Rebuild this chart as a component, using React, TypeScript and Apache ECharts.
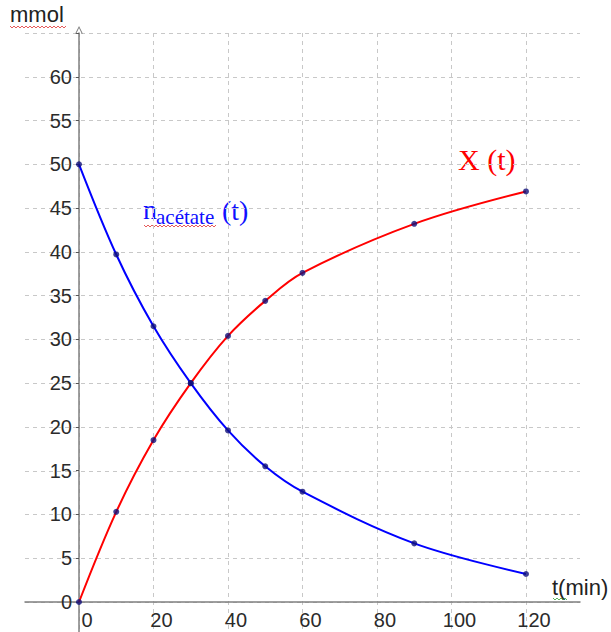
import React, { useEffect, useRef } from "react";
import * as echarts from "echarts";

const times = [0, 10, 20, 30, 40, 50, 60, 90, 120];
const nAcetate = [50, 39.7, 31.5, 25, 19.6, 15.5, 12.6, 6.7, 3.2];
const xProduct = [0, 10.3, 18.5, 25, 30.4, 34.4, 37.6, 43.2, 46.9];
const xTickLabels = [0, 20, 40, 60, 80, 100, 120];
const xGridValues = [0, 20, 40, 60, 80, 100, 120];
const yTickLabels = [0, 5, 10, 15, 20, 25, 30, 35, 40, 45, 50, 55, 60];
const yGridValues = [0, 5, 10, 15, 20, 25, 30, 35, 40, 45, 50, 55, 60, 65];

function squiggle(x0: number, x1: number, y: number, color: string) {
  const pts: number[][] = [];
  let up = true;
  for (let x = x0; x <= x1; x += 2) {
    pts.push([x, up ? y - 1 : y + 1]);
    up = !up;
  }
  return {
    type: "polyline",
    shape: { points: pts },
    style: { stroke: color, lineWidth: 0.8, fill: null },
    silent: true,
  };
}

export default function App() {
  const ref = useRef<HTMLDivElement>(null);
  useEffect(() => {
    if (!ref.current) return;
    const chart = echarts.init(ref.current, null, { renderer: "svg" });
    const blue = times.map((t, i) => [t, nAcetate[i]]);
    const red = times.map((t, i) => [t, xProduct[i]]);
    const sans = "'Liberation Sans', Arial, sans-serif";
    const serif = "'Liberation Serif', 'Times New Roman', serif";
    const dash = { color: "#c8c8c8", type: [4, 4], width: 1 };
    chart.setOption({
      animation: false,
      backgroundColor: "#ffffff",
      grid: [
        { left: 25, right: 31, top: 33, bottom: 0, containLabel: false, outerBoundsMode: "none" },
        { left: 79, right: 31, top: 33, bottom: 30, containLabel: false, outerBoundsMode: "none" },
      ],
      xAxis: [
        {
          type: "value",
          gridIndex: 0,
          min: -14.5,
          max: 134.5,
          axisLine: { onZero: true, lineStyle: { color: "#7f7f7f", width: 1.5 } },
          axisTick: { show: false, customValues: xGridValues },
          axisLabel: { show: false },
          splitLine: { show: true, lineStyle: dash },
        },
        {
          type: "value",
          gridIndex: 1,
          min: 0,
          max: 134.5,
          axisLine: { show: false },
          axisTick: { show: false, customValues: xGridValues },
          axisLabel: {
            customValues: xTickLabels,
            fontSize: 20,
            fontFamily: sans,
            color: "#2b2b2b",
            margin: 8,
            align: "center",
            padding: [0, 0, 0, 16],
          },
          splitLine: { show: false },
        },
      ],
      yAxis: [
        {
          type: "value",
          gridIndex: 0,
          min: -3.4,
          max: 65,
          axisLine: {
            onZero: true,
            symbol: ["none", "path://M0,10L5,0L10,10L8.9,10.6L5,2.6L1.1,10.6Z"],
            symbolSize: [11, 8],
            symbolOffset: [0, 3],
            lineStyle: { color: "#7f7f7f", width: 1.5 },
          },
          axisTick: { show: false, customValues: yGridValues },
          axisLabel: { show: false },
          splitLine: { show: true, lineStyle: dash },
        },
        {
          type: "value",
          gridIndex: 1,
          min: 0,
          max: 65,
          axisLine: { show: false },
          axisTick: { show: true, length: 3, customValues: yGridValues, lineStyle: { color: "#555" } },
          axisLabel: {
            customValues: yTickLabels,
            fontSize: 20,
            fontFamily: sans,
            color: "#2b2b2b",
            margin: 7,
            verticalAlign: "middle",
            padding: [0, 0, 20, 0],
          },
          splitLine: { show: false },
        },
      ],
      series: [
        {
          type: "line",
          xAxisIndex: 1,
          yAxisIndex: 1,
          data: red,
          smooth: 0.35,
          clip: false,
          showSymbol: false,
          lineStyle: { color: "#ff0000", width: 2 },
          z: 3,
        },
        {
          type: "line",
          xAxisIndex: 1,
          yAxisIndex: 1,
          data: blue,
          smooth: 0.35,
          clip: false,
          showSymbol: false,
          lineStyle: { color: "#0000ff", width: 2 },
          z: 3,
        },
        {
          type: "scatter",
          xAxisIndex: 1,
          yAxisIndex: 1,
          data: blue.concat(red),
          clip: false,
          symbolSize: 6,
          itemStyle: { color: "#10107a" },
          z: 5,
        },
      ],
      graphic: [
        { type: "text", left: 10, top: 3, style: { text: "mmol", font: `22px ${sans}`, fill: "#222" } },
        squiggle(10, 66, 27, "#e03030"),
        { type: "text", left: 552, top: 576, style: { text: "t(min)", font: `22px ${sans}`, fill: "#222" } },
        squiggle(553, 567, 599, "#30a030"),
        { type: "text", left: 458, top: 144, style: { text: "X (t)", font: `30px ${serif}`, fill: "#ff0000" } },
        { type: "text", left: 143, top: 195, style: { text: "n", font: `28px ${serif}`, fill: "#1010ff" } },
        { type: "text", left: 156, top: 206, style: { text: "acétate", font: `21px ${serif}`, fill: "#1010ff" } },
        squiggle(144, 216, 226, "#e03030"),
        { type: "text", left: 222, top: 196, style: { text: "(t)", font: `28px ${serif}`, fill: "#1010ff" } },
      ],
    });
    return () => chart.dispose();
  }, []);
  return (
    <div
      ref={ref}
      style={{ position: "fixed", left: 0, top: 0, width: 611, height: 632 }}
    />
  );
}
